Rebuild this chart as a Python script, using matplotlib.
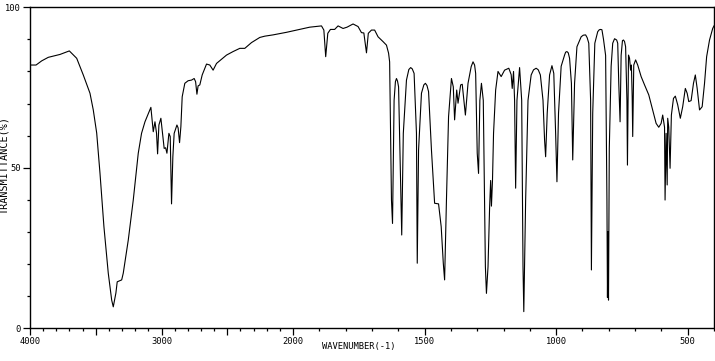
import numpy as np
import matplotlib
matplotlib.use("Agg")
import matplotlib.pyplot as plt

# IR spectrum (wavenumber in cm-1, transmittance in %)
wavenumber = [
    4000, 3954, 3911, 3861, 3772, 3701, 3645, 3595, 3544, 3519, 3493, 3468, 3438, 3405,
    3379, 3367, 3347, 3337, 3303, 3291, 3253, 3215, 3177, 3152, 3126, 3094, 3081, 3063,
    3050, 3038, 3030, 3020, 3005, 2995, 2980, 2969, 2959, 2944, 2934, 2924, 2914, 2904,
    2883, 2874, 2863, 2853, 2843, 2823, 2798, 2772, 2752, 2741, 2731, 2722, 2709, 2691,
    2658, 2633, 2608, 2582, 2544, 2506, 2456, 2405, 2367, 2316, 2253, 2215, 2152, 2050,
    1975, 1937, 1892, 1883, 1876, 1868, 1858, 1842, 1829, 1810, 1795, 1772, 1753, 1740,
    1731, 1721, 1714, 1702, 1690, 1677, 1658, 1645, 1637, 1633, 1626, 1622, 1616, 1611,
    1607, 1603, 1599, 1591, 1587, 1581, 1569, 1560, 1553, 1547, 1540, 1531, 1528, 1523,
    1512, 1503, 1497, 1491, 1485, 1474, 1462, 1447, 1437, 1429, 1424, 1417, 1409, 1398,
    1391, 1386, 1378, 1373, 1363, 1357, 1345, 1335, 1323, 1316, 1310, 1306, 1300, 1295,
    1290, 1284, 1277, 1269, 1265, 1259, 1253, 1249, 1246, 1242, 1238, 1230, 1221, 1209,
    1196, 1180, 1171, 1167, 1162, 1158, 1154, 1149, 1139, 1131, 1126, 1123, 1116, 1107,
    1095, 1086, 1076, 1068, 1060, 1050, 1044, 1040, 1034, 1025, 1016, 1009, 1002, 997,
    991, 981, 968, 964, 959, 954, 949, 942, 937, 930, 921, 905, 897, 888, 882, 876, 869,
    866, 861, 853, 842, 836, 831, 826, 820, 812, 807, 805, 803, 801, 798, 791, 785, 778,
    774, 770, 766, 762, 757, 753, 748, 744, 740, 736, 731, 729, 725, 721, 717, 714, 711,
    709, 705, 698, 690, 677, 664, 648, 633, 620, 610, 601, 595, 588, 586, 582, 578, 576,
    572, 567, 562, 554, 547, 538, 528, 519, 509, 502, 496, 487, 478, 471, 464, 455, 445,
    436, 428, 417, 405, 400,
]
transmittance = [
    82.0, 82.0, 83.3, 84.4, 85.3, 86.4, 84.1, 78.9, 73.2, 68.0, 60.8, 48.3, 31.6, 17.1,
    8.7, 6.6, 10.9, 14.4, 15.0, 17.1, 27.4, 39.9, 54.5, 60.7, 64.3, 67.5, 68.8, 61.2,
    64.3, 60.7, 54.3, 63.3, 65.4, 61.7, 56.0, 56.2, 54.5, 60.7, 59.7, 38.7, 53.4, 60.7,
    63.3, 62.4, 57.8, 62.8, 72.1, 76.3, 77.1, 77.3, 77.8, 76.8, 72.9, 75.5, 75.8, 78.9,
    82.3, 82.0, 80.4, 82.5, 83.8, 85.1, 86.2, 87.2, 87.2, 89.0, 90.6, 91.0, 91.4, 92.2,
    93.1, 93.8, 94.2, 92.9, 84.6, 91.9, 93.1, 93.1, 94.2, 93.4, 93.8, 94.8, 94.0, 92.1,
    92.0, 85.8, 91.9, 92.9, 92.9, 90.8, 89.3, 88.2, 85.7, 83.0, 39.9, 32.6, 71.0, 76.8,
    77.8, 77.0, 75.2, 44.0, 29.0, 60.7, 77.3, 80.6, 81.2, 80.8, 79.4, 60.7, 20.2, 55.5,
    73.2, 75.8, 76.3, 75.6, 73.7, 55.5, 38.9, 38.7, 31.6, 20.2, 15.0, 39.9, 65.9, 77.8,
    75.2, 64.9, 74.2, 70.1, 75.8, 76.0, 66.4, 76.3, 81.5, 83.0, 82.0, 79.4, 54.5, 48.2,
    71.0, 76.3, 71.0, 19.1, 10.8, 19.1, 37.5, 46.0, 38.0, 46.0, 60.7, 74.2, 80.0, 78.4,
    80.4, 81.0, 79.0, 74.7, 80.0, 71.0, 43.6, 71.0, 81.2, 71.0, 19.1, 5.1, 39.9, 71.0,
    78.9, 80.5, 81.0, 80.5, 78.9, 71.0, 58.6, 53.4, 67.0, 78.9, 81.8, 79.4, 60.7, 45.6,
    67.0, 81.6, 85.1, 86.0, 86.2, 85.8, 84.1, 76.3, 52.4, 76.3, 87.7, 90.8, 91.3, 91.4, 90.5, 88.8, 71.0,
    18.1, 67.0, 88.8, 92.4, 93.0, 93.1, 93.0, 90.0, 85.0, 40.0, 9.5, 30.0, 8.7, 56.0, 81.6, 88.8, 90.2,
    90.0, 89.8, 88.8, 76.3, 64.3, 85.0, 89.6, 89.8, 89.3, 87.7, 71.0, 50.8, 85.1, 84.1, 80.4, 82.0, 72.1,
    59.7, 82.0, 83.6, 82.0, 78.4, 75.8, 72.7, 68.0, 63.8, 62.6, 63.8, 66.4, 62.6, 39.9, 60.7, 44.6, 65.4,
    62.6, 49.8, 66.4, 71.6, 72.3, 69.6, 65.4, 69.0, 74.7, 73.2, 70.6, 70.9, 76.3, 78.9, 74.7, 68.0, 69.0,
    76.3, 84.6, 89.8, 93.4, 94.2,
]

x_major = [4000, 3500, 3000, 2500, 2000, 1500, 1000, 500]
x_labels = ["4000", "", "3000", "", "2000", "1500", "1000", "500"]
y_major = [0, 50, 100]
y_labels = ["0", "50", "100"]


# the chart is compressed 2x above 2000 cm-1
def fwd(w):
    w = np.asarray(w, dtype=float)
    return np.where(w <= 2000, w, 2000 + (w - 2000) / 2.0)


def inv(p):
    p = np.asarray(p, dtype=float)
    return np.where(p <= 2000, p, 2000 + (p - 2000) * 2.0)


fig = plt.figure(figsize=(7.15, 3.61), dpi=100)
ax = fig.add_axes([30 / 715, 1 - 328 / 361, 684 / 715, (328 - 7.3) / 361])

ax.plot(wavenumber, transmittance, color="black", lw=0.8)

ax.set_xscale("function", functions=(fwd, inv))
ax.set_xlim(4000, 400)
ax.set_ylim(0, 100)

ax.set_xticks(x_major)
ax.set_xticklabels(x_labels)
ax.set_xticks(np.arange(400, 4001, 100), minor=True)
ax.set_yticks(y_major)
ax.set_yticklabels(y_labels)
ax.set_yticks(np.arange(0, 101, 10), minor=True)

font = "DejaVu Sans Mono"
ax.tick_params(which="major", direction="out", length=5, width=0.9, labelsize=6.3, pad=1.5)
ax.tick_params(which="minor", direction="out", length=2.5, width=0.9)
for lab in ax.get_xticklabels() + ax.get_yticklabels():
    lab.set_fontfamily(font)

for sp in ax.spines.values():
    sp.set_linewidth(1.0)

fig.text(359 / 715, 1 - 346 / 361, "WAVENUMBER(-1)", ha="center", va="center",
         fontsize=6.3, family=font)
fig.text(4 / 715, 1 - 165 / 361, "TRANSMITTANCE(%)", ha="center", va="center",
         rotation=90, fontsize=7.3, family=font)

fig.savefig("out.png", dpi=100)
